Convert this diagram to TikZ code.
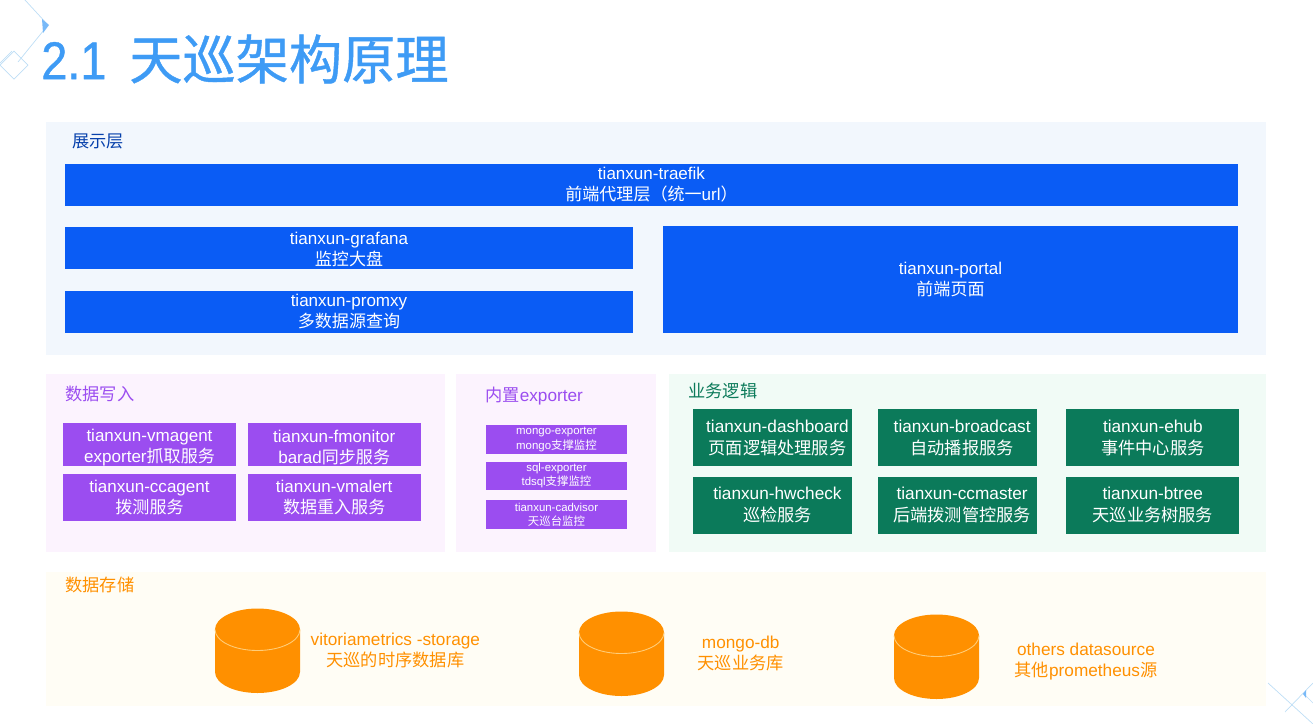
\documentclass[tikz,border=0pt]{standalone}
\usepackage{xcolor}
\usepackage{fontspec}
\setmainfont{Liberation Sans}
\newfontfamily\cjk{Noto Sans CJK SC}
\newfontfamily\titlelatin[FakeStretch=0.88,FakeBold=0.8]{Liberation Sans}
\newfontfamily\titlecjk[FakeBold=0.8]{Noto Sans CJK SC}
\definecolor{titlecolor}{RGB}{62, 155, 245}
\definecolor{bluecolor}{RGB}{10, 92, 245}
\definecolor{purplecolor}{RGB}{155, 77, 240}
\definecolor{greencolor}{RGB}{11, 122, 90}
\definecolor{orangecolor}{RGB}{255, 144, 0}
\definecolor{rimcolor}{RGB}{255, 205, 120}
\definecolor{bluepanel}{RGB}{242, 247, 253}
\definecolor{purplepanel}{RGB}{252, 243, 254}
\definecolor{greenpanel}{RGB}{241, 251, 246}
\definecolor{orangepanel}{RGB}{255, 253, 245}
\definecolor{decocolor}{RGB}{190, 222, 245}
\usetikzlibrary{positioning}

\tikzset{
    panel/.style={rectangle, anchor=north west, inner sep=0pt},
    heading/.style={inner sep=0pt, anchor=west, font=\fontsize{9.8}{12}\selectfont},
    box/.style={rectangle, inner sep=0pt, align=center, text=white, font=\fontsize{9.7}{12}\selectfont},
    bluebox/.style={box, fill=bluecolor},
    purplebox/.style={box, fill=purplecolor, minimum width=3.46cm},
    smallbox/.style={box, fill=purplecolor, minimum width=2.82cm, font=\fontsize{6.5}{8.1}\selectfont},
    greenbox/.style={box, fill=greencolor, minimum height=1.14cm, font=\fontsize{9.8}{12.5}\selectfont},
    store/.style={rectangle, inner sep=0pt, minimum width=1.7cm, minimum height=1.7cm},
    storetext/.style={align=center, inner sep=0pt, text=orangecolor, font=\fontsize{9.8}{12.4}\selectfont},
    deco/.style={draw=decocolor, line width=0.4pt},
    drum/.pic={
        \fill[orangecolor] (-42.5,-21) arc[start angle=180, end angle=360, x radius=42.5, y radius=21]
            -- (42.5,21.5) arc[start angle=0, end angle=180, x radius=42.5, y radius=21] -- cycle;
        \draw[rimcolor, line width=0.5pt] (-42.5,-21) arc[start angle=180, end angle=0, x radius=42.5, y radius=21];
    }
}

\begin{document}
\begin{tikzpicture}[x=0.02cm, y=-0.02cm]
    \useasboundingbox (0,0) rectangle (1313,724);

    % Corner ornaments
    \draw[deco] (25,0) -- (48,25) -- (18,62);
    \draw[deco] (14,51) -- (28,65) -- (14,79) -- (0,65) -- cycle;
    \draw[deco] (12,51) -- (0,63);
    \fill[titlecolor!70] (42,19) -- (49,25) -- (43,33) -- cycle;
    \draw[deco] (1268,683) -- (1313,724);
    \draw[deco] (1313,683) -- (1285,712);
    \draw[deco] (1303,693) -- (1313,703);
    \fill[titlecolor!70] (1303,694) -- (1306,690) -- (1306,698) -- cycle;

    % Title
    \node[anchor=west, inner sep=0pt, text=titlecolor, font=\fontsize{30.3}{34}\selectfont] (title) at (41,59)
        {{\titlelatin 2.1}\hspace{0.16cm} {\titlecjk 天巡架构原理}};

    % Background panels
    \node[panel, fill=bluepanel, minimum width=24.4cm, minimum height=4.66cm] (showpanel) at (46,122) {};
    \node[panel, fill=purplepanel, minimum width=7.98cm, minimum height=3.56cm] (writepanel) at (46,374) {};
    \node[panel, fill=purplepanel, minimum width=4cm, minimum height=3.56cm] (exporterpanel) at (456,374) {};
    \node[panel, fill=greenpanel, minimum width=11.94cm, minimum height=3.56cm] (logicpanel) at (669,374) {};
    \node[panel, fill=orangepanel, minimum width=24.4cm, minimum height=2.68cm] (storagepanel) at (46,572) {};

    % Display layer
    \node[heading, text=bluecolor!70!black] (showtext) at (72,141) {\cjk 展示层};
    \node[bluebox, minimum width=23.46cm, minimum height=0.84cm] (traefik) at (651.5,185)
        {tianxun-traefik\\{\cjk 前端代理层（统一}url{\cjk ）}};
    \node[bluebox, minimum width=11.36cm, minimum height=0.84cm] (grafana) at (349,248)
        {\rule{0pt}{8.5pt}tianxun-grafana\\{\cjk 监控大盘}};
    \node[bluebox, minimum width=11.36cm, minimum height=0.84cm, below=0.42cm of grafana] (promxy)
        {tianxun-promxy\\{\cjk 多数据源查询}};
    \node[bluebox, minimum width=11.5cm, minimum height=2.14cm] (portal) at (950.5,279.5)
        {tianxun-portal\\{\cjk 前端页面}};

    % Data write
    \node[heading, text=purplecolor] (writetext) at (65,394) {\cjk 数据写入};
    \node[purplebox, minimum height=0.86cm] (vmagent) at (149.5,444.5)
        {\rule{0pt}{10.2pt}tianxun-vmagent\\exporter{\cjk 抓取服务}};
    \node[purplebox, minimum height=0.86cm, right=0.22cm of vmagent] (fmonitor)
        {\rule{0pt}{10.2pt}tianxun-fmonitor\\barad{\cjk 同步服务}};
    \node[purplebox, minimum height=0.95cm, below=0.14cm of vmagent] (ccagent)
        {tianxun-ccagent\\{\cjk 拨测服务}};
    \node[purplebox, minimum height=0.95cm, below=0.14cm of fmonitor] (vmalert)
        {tianxun-vmalert\\{\cjk 数据重入服务}};

    % Built-in exporters
    \node[heading, text=purplecolor] (exportertext) at (485,396) {{\cjk 内置}exporter};
    \node[smallbox, minimum height=0.58cm] (mongoexporter) at (556.5,439.5)
        {mongo-exporter\\mongo{\cjk 支撑监控}};
    \node[smallbox, minimum height=0.56cm, below=0.14cm of mongoexporter] (sqlexporter)
        {sql-exporter\\tdsql{\cjk 支撑监控}};
    \node[smallbox, minimum height=0.58cm, below=0.2cm of sqlexporter] (cadvisor)
        {tianxun-cadvisor\\{\cjk 天巡台监控}};

    % Business logic
    \node[heading, text=greencolor] (logictext) at (688,391) {\cjk 业务逻辑};
    \node[greenbox, minimum width=3.18cm] (dashboard) at (772.5,437.5)
        {\hspace*{0.2cm}tianxun-dashboard\\\hspace*{0.2cm}{\cjk 页面逻辑处理服务}};
    \node[greenbox, minimum width=3.18cm, right=0.5cm of dashboard] (broadcast)
        {\hspace*{0.2cm}tianxun-broadcast\\\hspace*{0.2cm}{\cjk 自动播报服务}};
    \node[greenbox, minimum width=3.46cm, right=0.58cm of broadcast] (ehub)
        {tianxun-ehub\\{\cjk 事件中心服务}};
    \node[greenbox, minimum width=3.18cm, below=0.2cm of dashboard] (hwcheck)
        {\hspace*{0.2cm}tianxun-hwcheck\\\hspace*{0.2cm}{\cjk 巡检服务}};
    \node[greenbox, minimum width=3.18cm, below=0.2cm of broadcast] (ccmaster)
        {\hspace*{0.2cm}tianxun-ccmaster\\\hspace*{0.2cm}{\cjk 后端拨测管控服务}};
    \node[greenbox, minimum width=3.46cm, below=0.2cm of ehub] (btree)
        {tianxun-btree\\{\cjk 天巡业务树服务}};

    % Data storage
    \node[heading, text=orangecolor] (storagetext) at (65,585) {\cjk 数据存储};
    \node[store] (vmstorage) at (257.5,650.5) {};
    \pic at (vmstorage) {drum};
    \node[storetext, right=0.2cm of vmstorage] (vmtext)
        {vitoriametrics -storage\\{\cjk 天巡的时序数据库}};
    \node[store] (mongodb) at (621.5,653.5) {};
    \pic at (mongodb) {drum};
    \node[storetext, right=0.66cm of mongodb] (mongotext)
        {mongo-db\\{\cjk 天巡业务库}};
    \node[store] (others) at (936.5,656.5) {};
    \pic at (others) {drum};
    \node[storetext, right=0.7cm of others, yshift=-0.1cm] (otherstext)
        {others datasource\\{\cjk 其他}prometheus{\cjk 源}};

\end{tikzpicture}
\end{document}
